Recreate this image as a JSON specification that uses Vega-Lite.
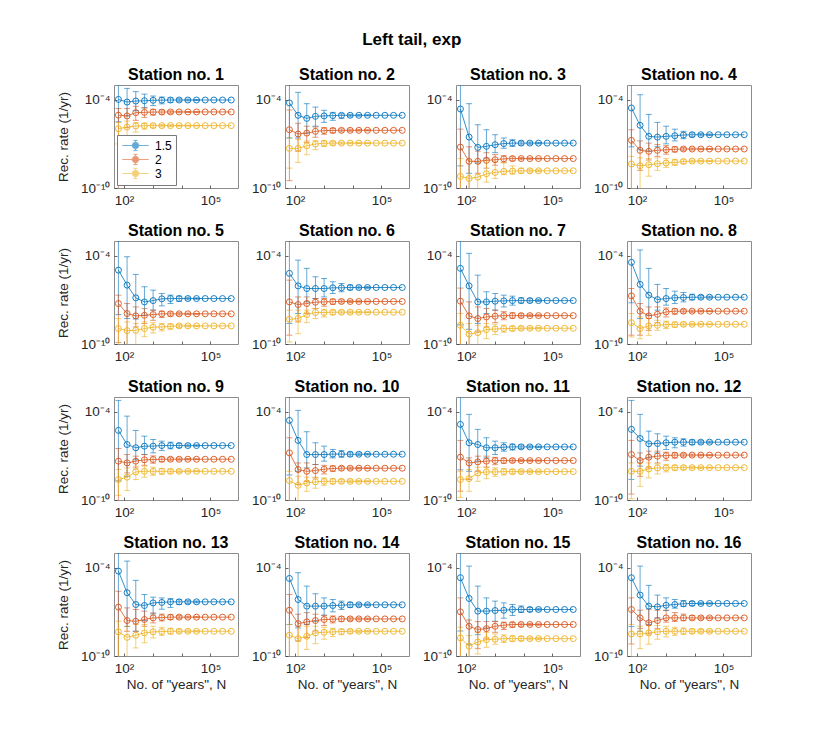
{
"$schema": "https://vega.github.io/schema/vega-lite/v6.json",
"background": "white",
"padding": {"left": 55, "top": 30, "right": 5, "bottom": 5},
"title": {"text": "Left tail, exp", "fontSize": 17, "anchor": "middle", "offset": 18, "dx": 8},
"data": {"values": [
{"s":1,"g":"1.5","n":64,"v":-3.98,"lo":-5.5,"hi":-2.5},{"s":1,"g":"1.5","n":128,"v":-4.16,"lo":-5.11,"hi":-3.23},{"s":1,"g":"1.5","n":256,"v":-4.09,"lo":-4.75,"hi":-3.45},{"s":1,"g":"1.5","n":512,"v":-4.07,"lo":-4.55,"hi":-3.62},{"s":1,"g":"1.5","n":1024,"v":-4.04,"lo":-4.4,"hi":-3.75},{"s":1,"g":"1.5","n":2048,"v":-4.03,"lo":-4.28,"hi":-3.82},{"s":1,"g":"1.5","n":4096,"v":-4.02,"lo":-4.18,"hi":-3.88},{"s":1,"g":"1.5","n":8192,"v":-4.02,"lo":-4.11,"hi":-3.93},{"s":1,"g":"1.5","n":16384,"v":-4.02,"lo":-4.08,"hi":-3.96},{"s":1,"g":"1.5","n":32768,"v":-4.02,"lo":-4.06,"hi":-3.98},{"s":1,"g":"1.5","n":65536,"v":-4.02},{"s":1,"g":"1.5","n":131072,"v":-4.02},{"s":1,"g":"1.5","n":262144,"v":-4.02},{"s":1,"g":"1.5","n":524288,"v":-4.02},
{"s":1,"g":"2","n":64,"v":-5.05,"lo":-10.5,"hi":-4.6},{"s":1,"g":"2","n":128,"v":-5.1,"lo":-5.9,"hi":-4.6},{"s":1,"g":"2","n":256,"v":-4.88,"lo":-5.4,"hi":-4.45},{"s":1,"g":"2","n":512,"v":-4.86,"lo":-5.2,"hi":-4.55},{"s":1,"g":"2","n":1024,"v":-4.84,"lo":-5.05,"hi":-4.65},{"s":1,"g":"2","n":2048,"v":-4.84,"lo":-4.98,"hi":-4.7},{"s":1,"g":"2","n":4096,"v":-4.83,"lo":-4.93,"hi":-4.75},{"s":1,"g":"2","n":8192,"v":-4.83,"lo":-4.89,"hi":-4.78},{"s":1,"g":"2","n":16384,"v":-4.83,"lo":-4.87,"hi":-4.8},{"s":1,"g":"2","n":32768,"v":-4.83,"lo":-4.86,"hi":-4.81},{"s":1,"g":"2","n":65536,"v":-4.83},{"s":1,"g":"2","n":131072,"v":-4.83},{"s":1,"g":"2","n":262144,"v":-4.83},{"s":1,"g":"2","n":524288,"v":-4.83},
{"s":1,"g":"3","n":64,"v":-5.97,"lo":-7.0,"hi":-5.55},{"s":1,"g":"3","n":128,"v":-5.86,"lo":-6.7,"hi":-5.45},{"s":1,"g":"3","n":256,"v":-5.79,"lo":-6.2,"hi":-5.55},{"s":1,"g":"3","n":512,"v":-5.77,"lo":-6.0,"hi":-5.6},{"s":1,"g":"3","n":1024,"v":-5.76,"lo":-5.9,"hi":-5.65},{"s":1,"g":"3","n":2048,"v":-5.76,"lo":-5.85,"hi":-5.68},{"s":1,"g":"3","n":4096,"v":-5.76,"lo":-5.82,"hi":-5.7},{"s":1,"g":"3","n":8192,"v":-5.76,"lo":-5.8,"hi":-5.72},{"s":1,"g":"3","n":16384,"v":-5.76,"lo":-5.79,"hi":-5.73},{"s":1,"g":"3","n":32768,"v":-5.76,"lo":-5.78,"hi":-5.74},{"s":1,"g":"3","n":65536,"v":-5.76},{"s":1,"g":"3","n":131072,"v":-5.76},{"s":1,"g":"3","n":262144,"v":-5.76},{"s":1,"g":"3","n":524288,"v":-5.76},
{"s":2,"g":"1.5","n":64,"v":-4.22,"lo":-6.6,"hi":-2.5},{"s":2,"g":"1.5","n":128,"v":-5.06,"lo":-6.6,"hi":-3.5},{"s":2,"g":"1.5","n":256,"v":-5.27,"lo":-6.27,"hi":-4.27},{"s":2,"g":"1.5","n":512,"v":-5.13,"lo":-5.8,"hi":-4.5},{"s":2,"g":"1.5","n":1024,"v":-5.1,"lo":-5.54,"hi":-4.72},{"s":2,"g":"1.5","n":2048,"v":-5.08,"lo":-5.4,"hi":-4.86},{"s":2,"g":"1.5","n":4096,"v":-5.06,"lo":-5.27,"hi":-4.95},{"s":2,"g":"1.5","n":8192,"v":-5.06,"lo":-5.16,"hi":-4.99},{"s":2,"g":"1.5","n":16384,"v":-5.06,"lo":-5.12,"hi":-5.01},{"s":2,"g":"1.5","n":32768,"v":-5.06,"lo":-5.1,"hi":-5.02},{"s":2,"g":"1.5","n":65536,"v":-5.06},{"s":2,"g":"1.5","n":131072,"v":-5.06},{"s":2,"g":"1.5","n":262144,"v":-5.06},{"s":2,"g":"1.5","n":524288,"v":-5.06},
{"s":2,"g":"2","n":64,"v":-6.04,"lo":-9.5,"hi":-4.7},{"s":2,"g":"2","n":128,"v":-6.33,"lo":-7.5,"hi":-5.6},{"s":2,"g":"2","n":256,"v":-6.27,"lo":-6.9,"hi":-5.8},{"s":2,"g":"2","n":512,"v":-6.15,"lo":-6.55,"hi":-5.85},{"s":2,"g":"2","n":1024,"v":-6.1,"lo":-6.35,"hi":-5.9},{"s":2,"g":"2","n":2048,"v":-6.09,"lo":-6.25,"hi":-5.95},{"s":2,"g":"2","n":4096,"v":-6.08,"lo":-6.19,"hi":-5.98},{"s":2,"g":"2","n":8192,"v":-6.08,"lo":-6.15,"hi":-6.0},{"s":2,"g":"2","n":16384,"v":-6.08,"lo":-6.13,"hi":-6.02},{"s":2,"g":"2","n":32768,"v":-6.08,"lo":-6.12,"hi":-6.04},{"s":2,"g":"2","n":65536,"v":-6.08},{"s":2,"g":"2","n":131072,"v":-6.08},{"s":2,"g":"2","n":262144,"v":-6.08},{"s":2,"g":"2","n":524288,"v":-6.08},
{"s":2,"g":"3","n":64,"v":-7.31,"lo":-8.65,"hi":-6.6},{"s":2,"g":"3","n":128,"v":-7.31,"lo":-8.26,"hi":-6.7},{"s":2,"g":"3","n":256,"v":-7.13,"lo":-7.74,"hi":-6.8},{"s":2,"g":"3","n":512,"v":-7.01,"lo":-7.4,"hi":-6.78},{"s":2,"g":"3","n":1024,"v":-6.96,"lo":-7.18,"hi":-6.8},{"s":2,"g":"3","n":2048,"v":-6.95,"lo":-7.08,"hi":-6.85},{"s":2,"g":"3","n":4096,"v":-6.95,"lo":-7.03,"hi":-6.88},{"s":2,"g":"3","n":8192,"v":-6.95,"lo":-7.0,"hi":-6.9},{"s":2,"g":"3","n":16384,"v":-6.95,"lo":-6.98,"hi":-6.92},{"s":2,"g":"3","n":32768,"v":-6.95,"lo":-6.97,"hi":-6.93},{"s":2,"g":"3","n":65536,"v":-6.95},{"s":2,"g":"3","n":131072,"v":-6.95},{"s":2,"g":"3","n":262144,"v":-6.95},{"s":2,"g":"3","n":524288,"v":-6.95},
{"s":3,"g":"1.5","n":64,"v":-4.63,"lo":-8.5,"hi":-2.5},{"s":3,"g":"1.5","n":128,"v":-6.54,"lo":-9.0,"hi":-4.27},{"s":3,"g":"1.5","n":256,"v":-7.24,"lo":-8.3,"hi":-5.7},{"s":3,"g":"1.5","n":512,"v":-7.17,"lo":-7.97,"hi":-6.04},{"s":3,"g":"1.5","n":1024,"v":-7.06,"lo":-7.6,"hi":-6.38},{"s":3,"g":"1.5","n":2048,"v":-6.98,"lo":-7.3,"hi":-6.6},{"s":3,"g":"1.5","n":4096,"v":-6.95,"lo":-7.17,"hi":-6.72},{"s":3,"g":"1.5","n":8192,"v":-6.95,"lo":-7.08,"hi":-6.82},{"s":3,"g":"1.5","n":16384,"v":-6.95,"lo":-7.03,"hi":-6.87},{"s":3,"g":"1.5","n":32768,"v":-6.95,"lo":-7.0,"hi":-6.9},{"s":3,"g":"1.5","n":65536,"v":-6.95},{"s":3,"g":"1.5","n":131072,"v":-6.95},{"s":3,"g":"1.5","n":262144,"v":-6.95},{"s":3,"g":"1.5","n":524288,"v":-6.95},
{"s":3,"g":"2","n":64,"v":-7.22,"lo":-10.5,"hi":-6.0},{"s":3,"g":"2","n":128,"v":-8.19,"lo":-10.5,"hi":-7.2},{"s":3,"g":"2","n":256,"v":-8.19,"lo":-9.0,"hi":-7.5},{"s":3,"g":"2","n":512,"v":-8.12,"lo":-8.65,"hi":-7.6},{"s":3,"g":"2","n":1024,"v":-8.08,"lo":-8.45,"hi":-7.73},{"s":3,"g":"2","n":2048,"v":-8.02,"lo":-8.25,"hi":-7.8},{"s":3,"g":"2","n":4096,"v":-8.0,"lo":-8.15,"hi":-7.87},{"s":3,"g":"2","n":8192,"v":-8.0,"lo":-8.08,"hi":-7.92},{"s":3,"g":"2","n":16384,"v":-8.0,"lo":-8.05,"hi":-7.95},{"s":3,"g":"2","n":32768,"v":-8.0,"lo":-8.03,"hi":-7.97},{"s":3,"g":"2","n":65536,"v":-8.0},{"s":3,"g":"2","n":131072,"v":-8.0},{"s":3,"g":"2","n":262144,"v":-8.0},{"s":3,"g":"2","n":524288,"v":-8.0},
{"s":3,"g":"3","n":64,"v":-9.21,"lo":-10.5,"hi":-8.0},{"s":3,"g":"3","n":128,"v":-9.35,"lo":-10.5,"hi":-8.1},{"s":3,"g":"3","n":256,"v":-9.26,"lo":-10.2,"hi":-8.2},{"s":3,"g":"3","n":512,"v":-9.03,"lo":-9.6,"hi":-8.1},{"s":3,"g":"3","n":1024,"v":-8.94,"lo":-9.35,"hi":-8.2},{"s":3,"g":"3","n":2048,"v":-8.87,"lo":-9.1,"hi":-8.3},{"s":3,"g":"3","n":4096,"v":-8.85,"lo":-9.05,"hi":-8.5},{"s":3,"g":"3","n":8192,"v":-8.83,"lo":-8.98,"hi":-8.65},{"s":3,"g":"3","n":16384,"v":-8.83,"lo":-8.92,"hi":-8.72},{"s":3,"g":"3","n":32768,"v":-8.83,"lo":-8.89,"hi":-8.76},{"s":3,"g":"3","n":65536,"v":-8.83},{"s":3,"g":"3","n":131072,"v":-8.83},{"s":3,"g":"3","n":262144,"v":-8.83},{"s":3,"g":"3","n":524288,"v":-8.83},
{"s":4,"g":"1.5","n":64,"v":-4.56,"lo":-7.2,"hi":-2.5},{"s":4,"g":"1.5","n":128,"v":-5.74,"lo":-7.4,"hi":-3.66},{"s":4,"g":"1.5","n":256,"v":-6.49,"lo":-7.5,"hi":-5.0},{"s":4,"g":"1.5","n":512,"v":-6.54,"lo":-7.2,"hi":-5.54},{"s":4,"g":"1.5","n":1024,"v":-6.49,"lo":-7.0,"hi":-5.8},{"s":4,"g":"1.5","n":2048,"v":-6.45,"lo":-6.8,"hi":-6.0},{"s":4,"g":"1.5","n":4096,"v":-6.4,"lo":-6.65,"hi":-6.15},{"s":4,"g":"1.5","n":8192,"v":-6.38,"lo":-6.52,"hi":-6.25},{"s":4,"g":"1.5","n":16384,"v":-6.38,"lo":-6.46,"hi":-6.3},{"s":4,"g":"1.5","n":32768,"v":-6.38,"lo":-6.43,"hi":-6.33},{"s":4,"g":"1.5","n":65536,"v":-6.38},{"s":4,"g":"1.5","n":131072,"v":-6.38},{"s":4,"g":"1.5","n":262144,"v":-6.38},{"s":4,"g":"1.5","n":524288,"v":-6.38},
{"s":4,"g":"2","n":64,"v":-6.76,"lo":-10.5,"hi":-6.04},{"s":4,"g":"2","n":128,"v":-7.44,"lo":-8.8,"hi":-6.8},{"s":4,"g":"2","n":256,"v":-7.51,"lo":-8.1,"hi":-6.95},{"s":4,"g":"2","n":512,"v":-7.44,"lo":-7.85,"hi":-7.05},{"s":4,"g":"2","n":1024,"v":-7.4,"lo":-7.7,"hi":-7.12},{"s":4,"g":"2","n":2048,"v":-7.37,"lo":-7.55,"hi":-7.2},{"s":4,"g":"2","n":4096,"v":-7.35,"lo":-7.47,"hi":-7.25},{"s":4,"g":"2","n":8192,"v":-7.35,"lo":-7.42,"hi":-7.28},{"s":4,"g":"2","n":16384,"v":-7.35,"lo":-7.4,"hi":-7.3},{"s":4,"g":"2","n":32768,"v":-7.35,"lo":-7.38,"hi":-7.32},{"s":4,"g":"2","n":65536,"v":-7.35},{"s":4,"g":"2","n":131072,"v":-7.35},{"s":4,"g":"2","n":262144,"v":-7.35},{"s":4,"g":"2","n":524288,"v":-7.35},
{"s":4,"g":"3","n":64,"v":-8.37,"lo":-10.5,"hi":-7.85},{"s":4,"g":"3","n":128,"v":-8.49,"lo":-10.5,"hi":-7.95},{"s":4,"g":"3","n":256,"v":-8.42,"lo":-9.2,"hi":-8.0},{"s":4,"g":"3","n":512,"v":-8.35,"lo":-8.8,"hi":-7.95},{"s":4,"g":"3","n":1024,"v":-8.3,"lo":-8.6,"hi":-8.0},{"s":4,"g":"3","n":2048,"v":-8.26,"lo":-8.45,"hi":-8.05},{"s":4,"g":"3","n":4096,"v":-8.2,"lo":-8.33,"hi":-8.08},{"s":4,"g":"3","n":8192,"v":-8.17,"lo":-8.25,"hi":-8.1},{"s":4,"g":"3","n":16384,"v":-8.17,"lo":-8.22,"hi":-8.12},{"s":4,"g":"3","n":32768,"v":-8.17,"lo":-8.2,"hi":-8.14},{"s":4,"g":"3","n":65536,"v":-8.17},{"s":4,"g":"3","n":131072,"v":-8.17},{"s":4,"g":"3","n":262144,"v":-8.17},{"s":4,"g":"3","n":524288,"v":-8.17},
{"s":5,"g":"1.5","n":64,"v":-4.98,"lo":-8.0,"hi":-2.5},{"s":5,"g":"1.5","n":128,"v":-6.0,"lo":-8.27,"hi":-4.07},{"s":5,"g":"1.5","n":256,"v":-6.86,"lo":-8.3,"hi":-5.27},{"s":5,"g":"1.5","n":512,"v":-7.14,"lo":-8.05,"hi":-6.11},{"s":5,"g":"1.5","n":1024,"v":-7.05,"lo":-7.7,"hi":-6.34},{"s":5,"g":"1.5","n":2048,"v":-6.93,"lo":-7.41,"hi":-6.57},{"s":5,"g":"1.5","n":4096,"v":-6.91,"lo":-7.25,"hi":-6.68},{"s":5,"g":"1.5","n":8192,"v":-6.91,"lo":-7.1,"hi":-6.75},{"s":5,"g":"1.5","n":16384,"v":-6.91,"lo":-7.0,"hi":-6.82},{"s":5,"g":"1.5","n":32768,"v":-6.91,"lo":-6.96,"hi":-6.86},{"s":5,"g":"1.5","n":65536,"v":-6.91},{"s":5,"g":"1.5","n":131072,"v":-6.91},{"s":5,"g":"1.5","n":262144,"v":-6.91},{"s":5,"g":"1.5","n":524288,"v":-6.91},
{"s":5,"g":"2","n":64,"v":-7.25,"lo":-9.9,"hi":-6.68},{"s":5,"g":"2","n":128,"v":-7.93,"lo":-10.5,"hi":-7.25},{"s":5,"g":"2","n":256,"v":-8.09,"lo":-8.84,"hi":-7.48},{"s":5,"g":"2","n":512,"v":-8.05,"lo":-8.61,"hi":-7.59},{"s":5,"g":"2","n":1024,"v":-8.0,"lo":-8.39,"hi":-7.7},{"s":5,"g":"2","n":2048,"v":-7.95,"lo":-8.2,"hi":-7.77},{"s":5,"g":"2","n":4096,"v":-7.95,"lo":-8.1,"hi":-7.82},{"s":5,"g":"2","n":8192,"v":-7.95,"lo":-8.04,"hi":-7.87},{"s":5,"g":"2","n":16384,"v":-7.95,"lo":-8.0,"hi":-7.9},{"s":5,"g":"2","n":32768,"v":-7.95,"lo":-7.98,"hi":-7.92},{"s":5,"g":"2","n":65536,"v":-7.95},{"s":5,"g":"2","n":131072,"v":-7.95},{"s":5,"g":"2","n":262144,"v":-7.95},{"s":5,"g":"2","n":524288,"v":-7.95},
{"s":5,"g":"3","n":64,"v":-8.95,"lo":-10.5,"hi":-8.27},{"s":5,"g":"3","n":128,"v":-9.09,"lo":-10.5,"hi":-8.5},{"s":5,"g":"3","n":256,"v":-9.07,"lo":-10.5,"hi":-8.61},{"s":5,"g":"3","n":512,"v":-8.95,"lo":-9.5,"hi":-8.5},{"s":5,"g":"3","n":1024,"v":-8.86,"lo":-9.25,"hi":-8.55},{"s":5,"g":"3","n":2048,"v":-8.84,"lo":-9.11,"hi":-8.61},{"s":5,"g":"3","n":4096,"v":-8.8,"lo":-8.98,"hi":-8.65},{"s":5,"g":"3","n":8192,"v":-8.77,"lo":-8.88,"hi":-8.68},{"s":5,"g":"3","n":16384,"v":-8.77,"lo":-8.83,"hi":-8.71},{"s":5,"g":"3","n":32768,"v":-8.77,"lo":-8.81,"hi":-8.73},{"s":5,"g":"3","n":65536,"v":-8.77},{"s":5,"g":"3","n":131072,"v":-8.77},{"s":5,"g":"3","n":262144,"v":-8.77},{"s":5,"g":"3","n":524288,"v":-8.77},
{"s":6,"g":"1.5","n":64,"v":-5.2,"lo":-8.6,"hi":-2.5},{"s":6,"g":"1.5","n":128,"v":-6.05,"lo":-7.93,"hi":-4.3},{"s":6,"g":"1.5","n":256,"v":-6.23,"lo":-7.14,"hi":-4.86},{"s":6,"g":"1.5","n":512,"v":-6.23,"lo":-6.91,"hi":-5.43},{"s":6,"g":"1.5","n":1024,"v":-6.23,"lo":-6.8,"hi":-5.55},{"s":6,"g":"1.5","n":2048,"v":-6.18,"lo":-6.57,"hi":-5.77},{"s":6,"g":"1.5","n":4096,"v":-6.18,"lo":-6.45,"hi":-5.89},{"s":6,"g":"1.5","n":8192,"v":-6.16,"lo":-6.32,"hi":-6.0},{"s":6,"g":"1.5","n":16384,"v":-6.16,"lo":-6.26,"hi":-6.06},{"s":6,"g":"1.5","n":32768,"v":-6.16,"lo":-6.22,"hi":-6.1},{"s":6,"g":"1.5","n":65536,"v":-6.16},{"s":6,"g":"1.5","n":131072,"v":-6.16},{"s":6,"g":"1.5","n":262144,"v":-6.16},{"s":6,"g":"1.5","n":524288,"v":-6.16},
{"s":6,"g":"2","n":64,"v":-7.14,"lo":-9.4,"hi":-5.66},{"s":6,"g":"2","n":128,"v":-7.32,"lo":-8.5,"hi":-6.8},{"s":6,"g":"2","n":256,"v":-7.25,"lo":-7.93,"hi":-6.8},{"s":6,"g":"2","n":512,"v":-7.16,"lo":-7.59,"hi":-6.91},{"s":6,"g":"2","n":1024,"v":-7.14,"lo":-7.43,"hi":-6.91},{"s":6,"g":"2","n":2048,"v":-7.12,"lo":-7.3,"hi":-6.95},{"s":6,"g":"2","n":4096,"v":-7.11,"lo":-7.22,"hi":-7.0},{"s":6,"g":"2","n":8192,"v":-7.11,"lo":-7.18,"hi":-7.03},{"s":6,"g":"2","n":16384,"v":-7.11,"lo":-7.16,"hi":-7.06},{"s":6,"g":"2","n":32768,"v":-7.11,"lo":-7.14,"hi":-7.08},{"s":6,"g":"2","n":65536,"v":-7.11},{"s":6,"g":"2","n":131072,"v":-7.11},{"s":6,"g":"2","n":262144,"v":-7.11},{"s":6,"g":"2","n":524288,"v":-7.11},
{"s":6,"g":"3","n":64,"v":-8.32,"lo":-9.86,"hi":-7.7},{"s":6,"g":"3","n":128,"v":-8.27,"lo":-9.3,"hi":-7.7},{"s":6,"g":"3","n":256,"v":-8.0,"lo":-8.55,"hi":-7.7},{"s":6,"g":"3","n":512,"v":-7.86,"lo":-8.27,"hi":-7.59},{"s":6,"g":"3","n":1024,"v":-7.86,"lo":-8.16,"hi":-7.64},{"s":6,"g":"3","n":2048,"v":-7.84,"lo":-8.02,"hi":-7.7},{"s":6,"g":"3","n":4096,"v":-7.84,"lo":-7.95,"hi":-7.74},{"s":6,"g":"3","n":8192,"v":-7.84,"lo":-7.91,"hi":-7.77},{"s":6,"g":"3","n":16384,"v":-7.84,"lo":-7.89,"hi":-7.79},{"s":6,"g":"3","n":32768,"v":-7.84,"lo":-7.87,"hi":-7.81},{"s":6,"g":"3","n":65536,"v":-7.84},{"s":6,"g":"3","n":131072,"v":-7.84},{"s":6,"g":"3","n":262144,"v":-7.84},{"s":6,"g":"3","n":524288,"v":-7.84},
{"s":7,"g":"1.5","n":64,"v":-4.86,"lo":-8.7,"hi":-2.5},{"s":7,"g":"1.5","n":128,"v":-6.05,"lo":-9.0,"hi":-3.84},{"s":7,"g":"1.5","n":256,"v":-7.14,"lo":-8.6,"hi":-5.32},{"s":7,"g":"1.5","n":512,"v":-7.14,"lo":-7.93,"hi":-6.45},{"s":7,"g":"1.5","n":1024,"v":-7.09,"lo":-7.7,"hi":-6.57},{"s":7,"g":"1.5","n":2048,"v":-7.07,"lo":-7.48,"hi":-6.68},{"s":7,"g":"1.5","n":4096,"v":-7.05,"lo":-7.36,"hi":-6.75},{"s":7,"g":"1.5","n":8192,"v":-7.05,"lo":-7.22,"hi":-6.85},{"s":7,"g":"1.5","n":16384,"v":-7.05,"lo":-7.15,"hi":-6.92},{"s":7,"g":"1.5","n":32768,"v":-7.05,"lo":-7.11,"hi":-6.96},{"s":7,"g":"1.5","n":65536,"v":-7.05},{"s":7,"g":"1.5","n":131072,"v":-7.05},{"s":7,"g":"1.5","n":262144,"v":-7.05},{"s":7,"g":"1.5","n":524288,"v":-7.05},
{"s":7,"g":"2","n":64,"v":-7.09,"lo":-10.5,"hi":-6.2},{"s":7,"g":"2","n":128,"v":-8.09,"lo":-10.5,"hi":-7.14},{"s":7,"g":"2","n":256,"v":-8.27,"lo":-9.18,"hi":-7.48},{"s":7,"g":"2","n":512,"v":-8.16,"lo":-8.84,"hi":-7.59},{"s":7,"g":"2","n":1024,"v":-8.11,"lo":-8.55,"hi":-7.7},{"s":7,"g":"2","n":2048,"v":-8.07,"lo":-8.35,"hi":-7.8},{"s":7,"g":"2","n":4096,"v":-8.07,"lo":-8.25,"hi":-7.88},{"s":7,"g":"2","n":8192,"v":-8.07,"lo":-8.17,"hi":-7.94},{"s":7,"g":"2","n":16384,"v":-8.07,"lo":-8.13,"hi":-7.98},{"s":7,"g":"2","n":32768,"v":-8.07,"lo":-8.11,"hi":-8.01},{"s":7,"g":"2","n":65536,"v":-8.07},{"s":7,"g":"2","n":131072,"v":-8.07},{"s":7,"g":"2","n":262144,"v":-8.07},{"s":7,"g":"2","n":524288,"v":-8.07},
{"s":7,"g":"3","n":64,"v":-8.73,"lo":-10.5,"hi":-7.93},{"s":7,"g":"3","n":128,"v":-9.32,"lo":-10.5,"hi":-8.61},{"s":7,"g":"3","n":256,"v":-9.23,"lo":-10.5,"hi":-8.73},{"s":7,"g":"3","n":512,"v":-9.02,"lo":-9.64,"hi":-8.61},{"s":7,"g":"3","n":1024,"v":-8.98,"lo":-9.36,"hi":-8.66},{"s":7,"g":"3","n":2048,"v":-8.95,"lo":-9.2,"hi":-8.72},{"s":7,"g":"3","n":4096,"v":-8.95,"lo":-9.1,"hi":-8.78},{"s":7,"g":"3","n":8192,"v":-8.93,"lo":-9.03,"hi":-8.83},{"s":7,"g":"3","n":16384,"v":-8.93,"lo":-8.99,"hi":-8.86},{"s":7,"g":"3","n":32768,"v":-8.93,"lo":-8.97,"hi":-8.88},{"s":7,"g":"3","n":65536,"v":-8.93},{"s":7,"g":"3","n":131072,"v":-8.93},{"s":7,"g":"3","n":262144,"v":-8.93},{"s":7,"g":"3","n":524288,"v":-8.93},
{"s":8,"g":"1.5","n":64,"v":-4.45,"lo":-7.2,"hi":-2.5},{"s":8,"g":"1.5","n":128,"v":-5.95,"lo":-8.27,"hi":-3.61},{"s":8,"g":"1.5","n":256,"v":-6.68,"lo":-8.05,"hi":-4.86},{"s":8,"g":"1.5","n":512,"v":-6.98,"lo":-7.7,"hi":-5.95},{"s":8,"g":"1.5","n":1024,"v":-6.91,"lo":-7.36,"hi":-6.23},{"s":8,"g":"1.5","n":2048,"v":-6.86,"lo":-7.25,"hi":-6.41},{"s":8,"g":"1.5","n":4096,"v":-6.84,"lo":-7.14,"hi":-6.5},{"s":8,"g":"1.5","n":8192,"v":-6.82,"lo":-7.0,"hi":-6.62},{"s":8,"g":"1.5","n":16384,"v":-6.82,"lo":-6.93,"hi":-6.7},{"s":8,"g":"1.5","n":32768,"v":-6.82,"lo":-6.89,"hi":-6.75},{"s":8,"g":"1.5","n":65536,"v":-6.82},{"s":8,"g":"1.5","n":131072,"v":-6.82},{"s":8,"g":"1.5","n":262144,"v":-6.82},{"s":8,"g":"1.5","n":524288,"v":-6.82},
{"s":8,"g":"2","n":64,"v":-6.73,"lo":-9.4,"hi":-6.23},{"s":8,"g":"2","n":128,"v":-7.77,"lo":-9.4,"hi":-7.25},{"s":8,"g":"2","n":256,"v":-8.09,"lo":-9.07,"hi":-7.48},{"s":8,"g":"2","n":512,"v":-7.98,"lo":-8.55,"hi":-7.48},{"s":8,"g":"2","n":1024,"v":-7.82,"lo":-8.16,"hi":-7.55},{"s":8,"g":"2","n":2048,"v":-7.77,"lo":-7.98,"hi":-7.6},{"s":8,"g":"2","n":4096,"v":-7.77,"lo":-7.9,"hi":-7.66},{"s":8,"g":"2","n":8192,"v":-7.77,"lo":-7.85,"hi":-7.7},{"s":8,"g":"2","n":16384,"v":-7.77,"lo":-7.82,"hi":-7.72},{"s":8,"g":"2","n":32768,"v":-7.77,"lo":-7.8,"hi":-7.74},{"s":8,"g":"2","n":65536,"v":-7.77},{"s":8,"g":"2","n":131072,"v":-7.77},{"s":8,"g":"2","n":262144,"v":-7.77},{"s":8,"g":"2","n":524288,"v":-7.77},
{"s":8,"g":"3","n":64,"v":-8.55,"lo":-9.52,"hi":-7.93},{"s":8,"g":"3","n":128,"v":-8.95,"lo":-9.64,"hi":-8.16},{"s":8,"g":"3","n":256,"v":-8.77,"lo":-9.41,"hi":-8.27},{"s":8,"g":"3","n":512,"v":-8.73,"lo":-9.07,"hi":-8.39},{"s":8,"g":"3","n":1024,"v":-8.68,"lo":-8.95,"hi":-8.45},{"s":8,"g":"3","n":2048,"v":-8.68,"lo":-8.86,"hi":-8.52},{"s":8,"g":"3","n":4096,"v":-8.66,"lo":-8.78,"hi":-8.56},{"s":8,"g":"3","n":8192,"v":-8.66,"lo":-8.73,"hi":-8.6},{"s":8,"g":"3","n":16384,"v":-8.66,"lo":-8.7,"hi":-8.62},{"s":8,"g":"3","n":32768,"v":-8.66,"lo":-8.69,"hi":-8.63},{"s":8,"g":"3","n":65536,"v":-8.66},{"s":8,"g":"3","n":131072,"v":-8.66},{"s":8,"g":"3","n":262144,"v":-8.66},{"s":8,"g":"3","n":524288,"v":-8.66},
{"s":9,"g":"1.5","n":64,"v":-5.27,"lo":-8.7,"hi":-3.23},{"s":9,"g":"1.5","n":128,"v":-6.23,"lo":-8.4,"hi":-4.3},{"s":9,"g":"1.5","n":256,"v":-6.45,"lo":-7.27,"hi":-5.27},{"s":9,"g":"1.5","n":512,"v":-6.34,"lo":-6.91,"hi":-5.66},{"s":9,"g":"1.5","n":1024,"v":-6.34,"lo":-6.8,"hi":-5.89},{"s":9,"g":"1.5","n":2048,"v":-6.3,"lo":-6.64,"hi":-6.0},{"s":9,"g":"1.5","n":4096,"v":-6.3,"lo":-6.52,"hi":-6.07},{"s":9,"g":"1.5","n":8192,"v":-6.3,"lo":-6.43,"hi":-6.15},{"s":9,"g":"1.5","n":16384,"v":-6.3,"lo":-6.38,"hi":-6.2},{"s":9,"g":"1.5","n":32768,"v":-6.3,"lo":-6.35,"hi":-6.24},{"s":9,"g":"1.5","n":65536,"v":-6.3},{"s":9,"g":"1.5","n":131072,"v":-6.3},{"s":9,"g":"1.5","n":262144,"v":-6.3},{"s":9,"g":"1.5","n":524288,"v":-6.3},
{"s":9,"g":"2","n":64,"v":-7.36,"lo":-10.5,"hi":-6.5},{"s":9,"g":"2","n":128,"v":-7.48,"lo":-8.16,"hi":-6.91},{"s":9,"g":"2","n":256,"v":-7.36,"lo":-7.82,"hi":-7.02},{"s":9,"g":"2","n":512,"v":-7.27,"lo":-7.64,"hi":-6.91},{"s":9,"g":"2","n":1024,"v":-7.25,"lo":-7.5,"hi":-7.0},{"s":9,"g":"2","n":2048,"v":-7.23,"lo":-7.4,"hi":-7.07},{"s":9,"g":"2","n":4096,"v":-7.23,"lo":-7.33,"hi":-7.12},{"s":9,"g":"2","n":8192,"v":-7.23,"lo":-7.3,"hi":-7.15},{"s":9,"g":"2","n":16384,"v":-7.23,"lo":-7.28,"hi":-7.18},{"s":9,"g":"2","n":32768,"v":-7.23,"lo":-7.26,"hi":-7.2},{"s":9,"g":"2","n":65536,"v":-7.23},{"s":9,"g":"2","n":131072,"v":-7.23},{"s":9,"g":"2","n":262144,"v":-7.23},{"s":9,"g":"2","n":524288,"v":-7.23},
{"s":9,"g":"3","n":64,"v":-8.61,"lo":-9.68,"hi":-7.93},{"s":9,"g":"3","n":128,"v":-8.45,"lo":-9.36,"hi":-7.82},{"s":9,"g":"3","n":256,"v":-8.09,"lo":-8.61,"hi":-7.7},{"s":9,"g":"3","n":512,"v":-8.05,"lo":-8.45,"hi":-7.7},{"s":9,"g":"3","n":1024,"v":-8.05,"lo":-8.32,"hi":-7.77},{"s":9,"g":"3","n":2048,"v":-8.05,"lo":-8.25,"hi":-7.85},{"s":9,"g":"3","n":4096,"v":-8.05,"lo":-8.18,"hi":-7.9},{"s":9,"g":"3","n":8192,"v":-8.05,"lo":-8.13,"hi":-7.95},{"s":9,"g":"3","n":16384,"v":-8.05,"lo":-8.1,"hi":-7.98},{"s":9,"g":"3","n":32768,"v":-8.05,"lo":-8.08,"hi":-8.0},{"s":9,"g":"3","n":65536,"v":-8.05},{"s":9,"g":"3","n":131072,"v":-8.05},{"s":9,"g":"3","n":262144,"v":-8.05},{"s":9,"g":"3","n":524288,"v":-8.05},
{"s":10,"g":"1.5","n":64,"v":-4.59,"lo":-8.3,"hi":-2.5},{"s":10,"g":"1.5","n":128,"v":-5.95,"lo":-8.05,"hi":-3.91},{"s":10,"g":"1.5","n":256,"v":-6.91,"lo":-7.82,"hi":-5.36},{"s":10,"g":"1.5","n":512,"v":-6.91,"lo":-7.59,"hi":-6.11},{"s":10,"g":"1.5","n":1024,"v":-6.91,"lo":-7.36,"hi":-6.34},{"s":10,"g":"1.5","n":2048,"v":-6.88,"lo":-7.14,"hi":-6.57},{"s":10,"g":"1.5","n":4096,"v":-6.88,"lo":-7.09,"hi":-6.64},{"s":10,"g":"1.5","n":8192,"v":-6.89,"lo":-7.02,"hi":-6.75},{"s":10,"g":"1.5","n":16384,"v":-6.89,"lo":-6.97,"hi":-6.8},{"s":10,"g":"1.5","n":32768,"v":-6.89,"lo":-6.94,"hi":-6.84},{"s":10,"g":"1.5","n":65536,"v":-6.89},{"s":10,"g":"1.5","n":131072,"v":-6.89},{"s":10,"g":"1.5","n":262144,"v":-6.89},{"s":10,"g":"1.5","n":524288,"v":-6.89},
{"s":10,"g":"2","n":64,"v":-6.8,"lo":-10.5,"hi":-5.77},{"s":10,"g":"2","n":128,"v":-7.93,"lo":-8.95,"hi":-7.48},{"s":10,"g":"2","n":256,"v":-8.05,"lo":-8.73,"hi":-7.48},{"s":10,"g":"2","n":512,"v":-8.0,"lo":-8.5,"hi":-7.59},{"s":10,"g":"2","n":1024,"v":-7.91,"lo":-8.23,"hi":-7.64},{"s":10,"g":"2","n":2048,"v":-7.86,"lo":-8.05,"hi":-7.68},{"s":10,"g":"2","n":4096,"v":-7.84,"lo":-7.97,"hi":-7.72},{"s":10,"g":"2","n":8192,"v":-7.84,"lo":-7.92,"hi":-7.76},{"s":10,"g":"2","n":16384,"v":-7.84,"lo":-7.89,"hi":-7.79},{"s":10,"g":"2","n":32768,"v":-7.84,"lo":-7.87,"hi":-7.81},{"s":10,"g":"2","n":65536,"v":-7.84},{"s":10,"g":"2","n":131072,"v":-7.84},{"s":10,"g":"2","n":262144,"v":-7.84},{"s":10,"g":"2","n":524288,"v":-7.84},
{"s":10,"g":"3","n":64,"v":-8.68,"lo":-10.5,"hi":-8.05},{"s":10,"g":"3","n":128,"v":-9.0,"lo":-10.5,"hi":-8.39},{"s":10,"g":"3","n":256,"v":-8.84,"lo":-9.41,"hi":-8.45},{"s":10,"g":"3","n":512,"v":-8.77,"lo":-9.2,"hi":-8.45},{"s":10,"g":"3","n":1024,"v":-8.73,"lo":-9.0,"hi":-8.5},{"s":10,"g":"3","n":2048,"v":-8.73,"lo":-8.9,"hi":-8.56},{"s":10,"g":"3","n":4096,"v":-8.73,"lo":-8.85,"hi":-8.6},{"s":10,"g":"3","n":8192,"v":-8.73,"lo":-8.81,"hi":-8.64},{"s":10,"g":"3","n":16384,"v":-8.73,"lo":-8.78,"hi":-8.67},{"s":10,"g":"3","n":32768,"v":-8.73,"lo":-8.77,"hi":-8.69},{"s":10,"g":"3","n":65536,"v":-8.73},{"s":10,"g":"3","n":131072,"v":-8.73},{"s":10,"g":"3","n":262144,"v":-8.73},{"s":10,"g":"3","n":524288,"v":-8.73},
{"s":11,"g":"1.5","n":64,"v":-4.86,"lo":-7.95,"hi":-2.5},{"s":11,"g":"1.5","n":128,"v":-6.11,"lo":-8.05,"hi":-4.18},{"s":11,"g":"1.5","n":256,"v":-6.23,"lo":-7.36,"hi":-5.2},{"s":11,"g":"1.5","n":512,"v":-6.45,"lo":-7.14,"hi":-5.77},{"s":11,"g":"1.5","n":1024,"v":-6.45,"lo":-6.91,"hi":-6.0},{"s":11,"g":"1.5","n":2048,"v":-6.41,"lo":-6.68,"hi":-6.11},{"s":11,"g":"1.5","n":4096,"v":-6.39,"lo":-6.6,"hi":-6.2},{"s":11,"g":"1.5","n":8192,"v":-6.39,"lo":-6.5,"hi":-6.27},{"s":11,"g":"1.5","n":16384,"v":-6.39,"lo":-6.46,"hi":-6.31},{"s":11,"g":"1.5","n":32768,"v":-6.39,"lo":-6.44,"hi":-6.34},{"s":11,"g":"1.5","n":65536,"v":-6.39},{"s":11,"g":"1.5","n":131072,"v":-6.39},{"s":11,"g":"1.5","n":262144,"v":-6.39},{"s":11,"g":"1.5","n":524288,"v":-6.39},
{"s":11,"g":"2","n":64,"v":-7.09,"lo":-9.4,"hi":-5.95},{"s":11,"g":"2","n":128,"v":-7.48,"lo":-8.61,"hi":-7.14},{"s":11,"g":"2","n":256,"v":-7.41,"lo":-8.05,"hi":-7.02},{"s":11,"g":"2","n":512,"v":-7.36,"lo":-7.77,"hi":-7.02},{"s":11,"g":"2","n":1024,"v":-7.32,"lo":-7.6,"hi":-7.1},{"s":11,"g":"2","n":2048,"v":-7.32,"lo":-7.5,"hi":-7.16},{"s":11,"g":"2","n":4096,"v":-7.32,"lo":-7.43,"hi":-7.2},{"s":11,"g":"2","n":8192,"v":-7.32,"lo":-7.39,"hi":-7.24},{"s":11,"g":"2","n":16384,"v":-7.32,"lo":-7.37,"hi":-7.26},{"s":11,"g":"2","n":32768,"v":-7.32,"lo":-7.36,"hi":-7.28},{"s":11,"g":"2","n":65536,"v":-7.32},{"s":11,"g":"2","n":131072,"v":-7.32},{"s":11,"g":"2","n":262144,"v":-7.32},{"s":11,"g":"2","n":524288,"v":-7.32},
{"s":11,"g":"3","n":64,"v":-8.61,"lo":-9.82,"hi":-8.05},{"s":11,"g":"3","n":128,"v":-8.55,"lo":-9.41,"hi":-7.93},{"s":11,"g":"3","n":256,"v":-8.16,"lo":-8.73,"hi":-7.77},{"s":11,"g":"3","n":512,"v":-8.09,"lo":-8.55,"hi":-7.77},{"s":11,"g":"3","n":1024,"v":-8.09,"lo":-8.39,"hi":-7.82},{"s":11,"g":"3","n":2048,"v":-8.07,"lo":-8.3,"hi":-7.88},{"s":11,"g":"3","n":4096,"v":-8.07,"lo":-8.22,"hi":-7.93},{"s":11,"g":"3","n":8192,"v":-8.07,"lo":-8.17,"hi":-7.97},{"s":11,"g":"3","n":16384,"v":-8.07,"lo":-8.14,"hi":-8.0},{"s":11,"g":"3","n":32768,"v":-8.07,"lo":-8.12,"hi":-8.02},{"s":11,"g":"3","n":65536,"v":-8.07},{"s":11,"g":"3","n":131072,"v":-8.07},{"s":11,"g":"3","n":262144,"v":-8.07},{"s":11,"g":"3","n":524288,"v":-8.07},
{"s":12,"g":"1.5","n":64,"v":-5.2,"lo":-8.6,"hi":-3.23},{"s":12,"g":"1.5","n":128,"v":-5.82,"lo":-7.7,"hi":-4.18},{"s":12,"g":"1.5","n":256,"v":-6.18,"lo":-7.14,"hi":-5.32},{"s":12,"g":"1.5","n":512,"v":-6.16,"lo":-6.8,"hi":-5.5},{"s":12,"g":"1.5","n":1024,"v":-6.11,"lo":-6.57,"hi":-5.66},{"s":12,"g":"1.5","n":2048,"v":-6.07,"lo":-6.45,"hi":-5.77},{"s":12,"g":"1.5","n":4096,"v":-6.07,"lo":-6.34,"hi":-5.84},{"s":12,"g":"1.5","n":8192,"v":-6.07,"lo":-6.24,"hi":-5.92},{"s":12,"g":"1.5","n":16384,"v":-6.07,"lo":-6.18,"hi":-5.97},{"s":12,"g":"1.5","n":32768,"v":-6.07,"lo":-6.14,"hi":-6.0},{"s":12,"g":"1.5","n":65536,"v":-6.07},{"s":12,"g":"1.5","n":131072,"v":-6.07},{"s":12,"g":"1.5","n":262144,"v":-6.07},{"s":12,"g":"1.5","n":524288,"v":-6.07},
{"s":12,"g":"2","n":64,"v":-6.91,"lo":-9.6,"hi":-5.95},{"s":12,"g":"2","n":128,"v":-7.32,"lo":-8.39,"hi":-6.8},{"s":12,"g":"2","n":256,"v":-7.09,"lo":-7.82,"hi":-6.68},{"s":12,"g":"2","n":512,"v":-7.02,"lo":-7.48,"hi":-6.68},{"s":12,"g":"2","n":1024,"v":-6.98,"lo":-7.3,"hi":-6.75},{"s":12,"g":"2","n":2048,"v":-6.95,"lo":-7.15,"hi":-6.8},{"s":12,"g":"2","n":4096,"v":-6.95,"lo":-7.07,"hi":-6.85},{"s":12,"g":"2","n":8192,"v":-6.95,"lo":-7.03,"hi":-6.88},{"s":12,"g":"2","n":16384,"v":-6.95,"lo":-7.0,"hi":-6.9},{"s":12,"g":"2","n":32768,"v":-6.95,"lo":-6.99,"hi":-6.92},{"s":12,"g":"2","n":65536,"v":-6.95},{"s":12,"g":"2","n":131072,"v":-6.95},{"s":12,"g":"2","n":262144,"v":-6.95},{"s":12,"g":"2","n":524288,"v":-6.95},
{"s":12,"g":"3","n":64,"v":-8.05,"lo":-9.91,"hi":-7.48},{"s":12,"g":"3","n":128,"v":-8.05,"lo":-9.07,"hi":-7.48},{"s":12,"g":"3","n":256,"v":-7.89,"lo":-8.5,"hi":-7.48},{"s":12,"g":"3","n":512,"v":-7.82,"lo":-8.23,"hi":-7.55},{"s":12,"g":"3","n":1024,"v":-7.82,"lo":-8.09,"hi":-7.59},{"s":12,"g":"3","n":2048,"v":-7.8,"lo":-7.98,"hi":-7.64},{"s":12,"g":"3","n":4096,"v":-7.8,"lo":-7.92,"hi":-7.68},{"s":12,"g":"3","n":8192,"v":-7.8,"lo":-7.88,"hi":-7.72},{"s":12,"g":"3","n":16384,"v":-7.8,"lo":-7.86,"hi":-7.74},{"s":12,"g":"3","n":32768,"v":-7.8,"lo":-7.84,"hi":-7.76},{"s":12,"g":"3","n":65536,"v":-7.8},{"s":12,"g":"3","n":131072,"v":-7.8},{"s":12,"g":"3","n":262144,"v":-7.8},{"s":12,"g":"3","n":524288,"v":-7.8},
{"s":13,"g":"1.5","n":64,"v":-4.23,"lo":-10.5,"hi":-2.5},{"s":13,"g":"1.5","n":128,"v":-5.7,"lo":-8.0,"hi":-3.55},{"s":13,"g":"1.5","n":256,"v":-6.5,"lo":-8.32,"hi":-4.86},{"s":13,"g":"1.5","n":512,"v":-6.57,"lo":-7.59,"hi":-5.82},{"s":13,"g":"1.5","n":1024,"v":-6.39,"lo":-7.14,"hi":-6.0},{"s":13,"g":"1.5","n":2048,"v":-6.36,"lo":-6.82,"hi":-6.05},{"s":13,"g":"1.5","n":4096,"v":-6.32,"lo":-6.7,"hi":-6.1},{"s":13,"g":"1.5","n":8192,"v":-6.32,"lo":-6.5,"hi":-6.18},{"s":13,"g":"1.5","n":16384,"v":-6.32,"lo":-6.43,"hi":-6.22},{"s":13,"g":"1.5","n":32768,"v":-6.32,"lo":-6.39,"hi":-6.26},{"s":13,"g":"1.5","n":65536,"v":-6.32},{"s":13,"g":"1.5","n":131072,"v":-6.32},{"s":13,"g":"1.5","n":262144,"v":-6.32},{"s":13,"g":"1.5","n":524288,"v":-6.32},
{"s":13,"g":"2","n":64,"v":-6.68,"lo":-10.5,"hi":-5.6},{"s":13,"g":"2","n":128,"v":-7.59,"lo":-8.32,"hi":-6.73},{"s":13,"g":"2","n":256,"v":-7.64,"lo":-8.32,"hi":-6.84},{"s":13,"g":"2","n":512,"v":-7.52,"lo":-7.98,"hi":-6.95},{"s":13,"g":"2","n":1024,"v":-7.41,"lo":-7.75,"hi":-7.07},{"s":13,"g":"2","n":2048,"v":-7.39,"lo":-7.62,"hi":-7.15},{"s":13,"g":"2","n":4096,"v":-7.36,"lo":-7.52,"hi":-7.2},{"s":13,"g":"2","n":8192,"v":-7.36,"lo":-7.46,"hi":-7.25},{"s":13,"g":"2","n":16384,"v":-7.36,"lo":-7.42,"hi":-7.29},{"s":13,"g":"2","n":32768,"v":-7.36,"lo":-7.4,"hi":-7.31},{"s":13,"g":"2","n":65536,"v":-7.36},{"s":13,"g":"2","n":131072,"v":-7.36},{"s":13,"g":"2","n":262144,"v":-7.36},{"s":13,"g":"2","n":524288,"v":-7.36},
{"s":13,"g":"3","n":64,"v":-8.36,"lo":-10.5,"hi":-7.64},{"s":13,"g":"3","n":128,"v":-8.73,"lo":-10.5,"hi":-7.98},{"s":13,"g":"3","n":256,"v":-8.59,"lo":-9.45,"hi":-7.86},{"s":13,"g":"3","n":512,"v":-8.43,"lo":-9.1,"hi":-7.86},{"s":13,"g":"3","n":1024,"v":-8.36,"lo":-8.77,"hi":-7.98},{"s":13,"g":"3","n":2048,"v":-8.34,"lo":-8.6,"hi":-8.05},{"s":13,"g":"3","n":4096,"v":-8.32,"lo":-8.5,"hi":-8.12},{"s":13,"g":"3","n":8192,"v":-8.32,"lo":-8.43,"hi":-8.18},{"s":13,"g":"3","n":16384,"v":-8.32,"lo":-8.4,"hi":-8.23},{"s":13,"g":"3","n":32768,"v":-8.32,"lo":-8.37,"hi":-8.26},{"s":13,"g":"3","n":65536,"v":-8.32},{"s":13,"g":"3","n":131072,"v":-8.32},{"s":13,"g":"3","n":262144,"v":-8.32},{"s":13,"g":"3","n":524288,"v":-8.32},
{"s":14,"g":"1.5","n":64,"v":-4.73,"lo":-7.86,"hi":-2.5},{"s":14,"g":"1.5","n":128,"v":-6.16,"lo":-8.09,"hi":-4.34},{"s":14,"g":"1.5","n":256,"v":-6.61,"lo":-7.86,"hi":-5.25},{"s":14,"g":"1.5","n":512,"v":-6.61,"lo":-7.64,"hi":-5.77},{"s":14,"g":"1.5","n":1024,"v":-6.61,"lo":-7.23,"hi":-6.05},{"s":14,"g":"1.5","n":2048,"v":-6.57,"lo":-7.0,"hi":-6.16},{"s":14,"g":"1.5","n":4096,"v":-6.55,"lo":-6.84,"hi":-6.27},{"s":14,"g":"1.5","n":8192,"v":-6.52,"lo":-6.7,"hi":-6.35},{"s":14,"g":"1.5","n":16384,"v":-6.52,"lo":-6.62,"hi":-6.42},{"s":14,"g":"1.5","n":32768,"v":-6.52,"lo":-6.58,"hi":-6.46},{"s":14,"g":"1.5","n":65536,"v":-6.52},{"s":14,"g":"1.5","n":131072,"v":-6.52},{"s":14,"g":"1.5","n":262144,"v":-6.52},{"s":14,"g":"1.5","n":524288,"v":-6.52},
{"s":14,"g":"2","n":64,"v":-6.89,"lo":-10.5,"hi":-5.82},{"s":14,"g":"2","n":128,"v":-7.8,"lo":-8.98,"hi":-7.16},{"s":14,"g":"2","n":256,"v":-7.68,"lo":-8.75,"hi":-7.05},{"s":14,"g":"2","n":512,"v":-7.59,"lo":-8.3,"hi":-7.16},{"s":14,"g":"2","n":1024,"v":-7.52,"lo":-7.93,"hi":-7.23},{"s":14,"g":"2","n":2048,"v":-7.5,"lo":-7.75,"hi":-7.28},{"s":14,"g":"2","n":4096,"v":-7.48,"lo":-7.65,"hi":-7.33},{"s":14,"g":"2","n":8192,"v":-7.48,"lo":-7.58,"hi":-7.37},{"s":14,"g":"2","n":16384,"v":-7.48,"lo":-7.55,"hi":-7.4},{"s":14,"g":"2","n":32768,"v":-7.48,"lo":-7.53,"hi":-7.42},{"s":14,"g":"2","n":65536,"v":-7.48},{"s":14,"g":"2","n":131072,"v":-7.48},{"s":14,"g":"2","n":262144,"v":-7.48},{"s":14,"g":"2","n":524288,"v":-7.48},
{"s":14,"g":"3","n":64,"v":-8.59,"lo":-10.5,"hi":-7.86},{"s":14,"g":"3","n":128,"v":-8.82,"lo":-10.3,"hi":-7.98},{"s":14,"g":"3","n":256,"v":-8.66,"lo":-9.55,"hi":-7.98},{"s":14,"g":"3","n":512,"v":-8.43,"lo":-9.16,"hi":-7.98},{"s":14,"g":"3","n":1024,"v":-8.39,"lo":-8.86,"hi":-8.05},{"s":14,"g":"3","n":2048,"v":-8.36,"lo":-8.68,"hi":-8.12},{"s":14,"g":"3","n":4096,"v":-8.34,"lo":-8.55,"hi":-8.18},{"s":14,"g":"3","n":8192,"v":-8.32,"lo":-8.45,"hi":-8.22},{"s":14,"g":"3","n":16384,"v":-8.32,"lo":-8.4,"hi":-8.26},{"s":14,"g":"3","n":32768,"v":-8.32,"lo":-8.37,"hi":-8.28},{"s":14,"g":"3","n":65536,"v":-8.32},{"s":14,"g":"3","n":131072,"v":-8.32},{"s":14,"g":"3","n":262144,"v":-8.32},{"s":14,"g":"3","n":524288,"v":-8.32},
{"s":15,"g":"1.5","n":64,"v":-4.68,"lo":-8.3,"hi":-2.5},{"s":15,"g":"1.5","n":128,"v":-6.09,"lo":-9.2,"hi":-3.89},{"s":15,"g":"1.5","n":256,"v":-6.95,"lo":-8.55,"hi":-5.25},{"s":15,"g":"1.5","n":512,"v":-6.95,"lo":-8.1,"hi":-6.05},{"s":15,"g":"1.5","n":1024,"v":-6.91,"lo":-7.64,"hi":-6.27},{"s":15,"g":"1.5","n":2048,"v":-6.89,"lo":-7.43,"hi":-6.39},{"s":15,"g":"1.5","n":4096,"v":-6.84,"lo":-7.25,"hi":-6.5},{"s":15,"g":"1.5","n":8192,"v":-6.84,"lo":-7.05,"hi":-6.6},{"s":15,"g":"1.5","n":16384,"v":-6.84,"lo":-6.98,"hi":-6.7},{"s":15,"g":"1.5","n":32768,"v":-6.84,"lo":-6.93,"hi":-6.76},{"s":15,"g":"1.5","n":65536,"v":-6.84},{"s":15,"g":"1.5","n":131072,"v":-6.84},{"s":15,"g":"1.5","n":262144,"v":-6.84},{"s":15,"g":"1.5","n":524288,"v":-6.84},
{"s":15,"g":"2","n":64,"v":-7.0,"lo":-10.5,"hi":-6.05},{"s":15,"g":"2","n":128,"v":-7.98,"lo":-10.3,"hi":-7.55},{"s":15,"g":"2","n":256,"v":-8.2,"lo":-9.5,"hi":-7.66},{"s":15,"g":"2","n":512,"v":-8.14,"lo":-8.84,"hi":-7.66},{"s":15,"g":"2","n":1024,"v":-7.98,"lo":-8.39,"hi":-7.66},{"s":15,"g":"2","n":2048,"v":-7.91,"lo":-8.2,"hi":-7.7},{"s":15,"g":"2","n":4096,"v":-7.86,"lo":-8.05,"hi":-7.72},{"s":15,"g":"2","n":8192,"v":-7.86,"lo":-7.97,"hi":-7.76},{"s":15,"g":"2","n":16384,"v":-7.86,"lo":-7.93,"hi":-7.79},{"s":15,"g":"2","n":32768,"v":-7.86,"lo":-7.91,"hi":-7.81},{"s":15,"g":"2","n":65536,"v":-7.86},{"s":15,"g":"2","n":131072,"v":-7.86},{"s":15,"g":"2","n":262144,"v":-7.86},{"s":15,"g":"2","n":524288,"v":-7.86},
{"s":15,"g":"3","n":64,"v":-8.77,"lo":-10.5,"hi":-8.05},{"s":15,"g":"3","n":128,"v":-9.34,"lo":-10.5,"hi":-8.61},{"s":15,"g":"3","n":256,"v":-9.05,"lo":-9.86,"hi":-8.39},{"s":15,"g":"3","n":512,"v":-8.89,"lo":-9.41,"hi":-8.39},{"s":15,"g":"3","n":1024,"v":-8.86,"lo":-9.2,"hi":-8.5},{"s":15,"g":"3","n":2048,"v":-8.82,"lo":-9.08,"hi":-8.56},{"s":15,"g":"3","n":4096,"v":-8.82,"lo":-9.0,"hi":-8.62},{"s":15,"g":"3","n":8192,"v":-8.82,"lo":-8.95,"hi":-8.68},{"s":15,"g":"3","n":16384,"v":-8.82,"lo":-8.9,"hi":-8.72},{"s":15,"g":"3","n":32768,"v":-8.82,"lo":-8.88,"hi":-8.75},{"s":15,"g":"3","n":65536,"v":-8.82},{"s":15,"g":"3","n":131072,"v":-8.82},{"s":15,"g":"3","n":262144,"v":-8.82},{"s":15,"g":"3","n":524288,"v":-8.82},
{"s":16,"g":"1.5","n":64,"v":-4.68,"lo":-8.0,"hi":-2.5},{"s":16,"g":"1.5","n":128,"v":-5.86,"lo":-8.32,"hi":-3.89},{"s":16,"g":"1.5","n":256,"v":-6.61,"lo":-7.86,"hi":-5.2},{"s":16,"g":"1.5","n":512,"v":-6.66,"lo":-7.41,"hi":-5.86},{"s":16,"g":"1.5","n":1024,"v":-6.55,"lo":-6.91,"hi":-6.05},{"s":16,"g":"1.5","n":2048,"v":-6.5,"lo":-6.75,"hi":-6.16},{"s":16,"g":"1.5","n":4096,"v":-6.45,"lo":-6.64,"hi":-6.23},{"s":16,"g":"1.5","n":8192,"v":-6.43,"lo":-6.57,"hi":-6.3},{"s":16,"g":"1.5","n":16384,"v":-6.43,"lo":-6.5,"hi":-6.35},{"s":16,"g":"1.5","n":32768,"v":-6.43,"lo":-6.47,"hi":-6.38},{"s":16,"g":"1.5","n":65536,"v":-6.43},{"s":16,"g":"1.5","n":131072,"v":-6.43},{"s":16,"g":"1.5","n":262144,"v":-6.43},{"s":16,"g":"1.5","n":524288,"v":-6.43},
{"s":16,"g":"2","n":64,"v":-6.84,"lo":-9.18,"hi":-6.05},{"s":16,"g":"2","n":128,"v":-7.41,"lo":-8.14,"hi":-6.89},{"s":16,"g":"2","n":256,"v":-7.75,"lo":-8.5,"hi":-6.82},{"s":16,"g":"2","n":512,"v":-7.59,"lo":-8.14,"hi":-6.89},{"s":16,"g":"2","n":1024,"v":-7.41,"lo":-7.7,"hi":-6.89},{"s":16,"g":"2","n":2048,"v":-7.41,"lo":-7.65,"hi":-7.05},{"s":16,"g":"2","n":4096,"v":-7.41,"lo":-7.6,"hi":-7.15},{"s":16,"g":"2","n":8192,"v":-7.41,"lo":-7.53,"hi":-7.25},{"s":16,"g":"2","n":16384,"v":-7.41,"lo":-7.5,"hi":-7.3},{"s":16,"g":"2","n":32768,"v":-7.41,"lo":-7.47,"hi":-7.34},{"s":16,"g":"2","n":65536,"v":-7.41},{"s":16,"g":"2","n":131072,"v":-7.41},{"s":16,"g":"2","n":262144,"v":-7.41},{"s":16,"g":"2","n":524288,"v":-7.41},
{"s":16,"g":"3","n":64,"v":-8.5,"lo":-10.5,"hi":-7.86},{"s":16,"g":"3","n":128,"v":-8.5,"lo":-9.5,"hi":-7.98},{"s":16,"g":"3","n":256,"v":-8.43,"lo":-9.2,"hi":-7.93},{"s":16,"g":"3","n":512,"v":-8.36,"lo":-8.86,"hi":-7.93},{"s":16,"g":"3","n":1024,"v":-8.32,"lo":-8.7,"hi":-7.98},{"s":16,"g":"3","n":2048,"v":-8.32,"lo":-8.6,"hi":-8.05},{"s":16,"g":"3","n":4096,"v":-8.32,"lo":-8.52,"hi":-8.1},{"s":16,"g":"3","n":8192,"v":-8.32,"lo":-8.45,"hi":-8.16},{"s":16,"g":"3","n":16384,"v":-8.32,"lo":-8.42,"hi":-8.2},{"s":16,"g":"3","n":32768,"v":-8.32,"lo":-8.4,"hi":-8.24},{"s":16,"g":"3","n":65536,"v":-8.32},{"s":16,"g":"3","n":131072,"v":-8.32},{"s":16,"g":"3","n":262144,"v":-8.32},{"s":16,"g":"3","n":524288,"v":-8.32}
]},
"columns": 4,
"spacing": {"row": 53, "column": 47},
"bounds": "flush",
"resolve": {"legend": {"color": "independent"}},
"concat": [
{"title":"Station no. 1","width":124,"height":103,"transform":[{"filter":"datum.s==1"}],"encoding":{"x":{"field":"n","type":"quantitative","scale":{"type":"log","domain":[45,900000]},"axis":{"values":[100,1000,10000,100000],"labelExpr":"datum.value==100?'10²':datum.value==100000?'10⁵':''","title":null}},"color":{"field":"g","type":"nominal","scale":{"domain":["1.5","2","3"],"range":["#0072BD","#D95319","#EDB120"]},"legend":{"orient":"bottom-left","title":null,"offset":3,"padding":4,"strokeColor":"#7a7a7a","fillColor":"white","labelFontSize":12,"labelColor":"#000","symbolType":"M-2.2,0H-0.55M0.55,0H2.2M0.55,0A0.55,0.55,0,1,1,-0.55,0A0.55,0.55,0,1,1,0.55,0M0,-0.85V-0.55M0,0.55V0.85M-0.35,-0.85H0.35M-0.35,0.85H0.35","symbolSize":144,"symbolStrokeWidth":0.9,"symbolFillColor":"transparent","symbolOffset":8,"labelOffset":13,"rowPadding":-3}}},"layer":[{"mark":{"type":"errorbar","ticks":{"size":6},"clip":true,"opacity":0.6},"encoding":{"y":{"field":"lo","type":"quantitative","scale":{"domain":[-10,-3],"nice":false,"zero":false},"axis":{"values":[-10,-9,-8,-7,-6,-5,-4],"labelExpr":"datum.value==-4?'10⁻⁴':datum.value==-10?'10⁻¹⁰':''","title":"Rec. rate (1/yr)"}},"y2":{"field":"hi"}}},{"mark":{"type":"line","strokeWidth":0.8,"clip":true},"encoding":{"y":{"field":"v","type":"quantitative","scale":{"domain":[-10,-3],"nice":false,"zero":false},"axis":{"values":[-10,-9,-8,-7,-6,-5,-4],"labelExpr":"datum.value==-4?'10⁻⁴':datum.value==-10?'10⁻¹⁰':''","title":"Rec. rate (1/yr)"}}}},{"mark":{"type":"point","filled":false,"size":36,"strokeWidth":0.9,"opacity":1,"clip":true},"encoding":{"y":{"field":"v","type":"quantitative"}}}]},
{"title":"Station no. 2","width":124,"height":103,"transform":[{"filter":"datum.s==2"}],"encoding":{"x":{"field":"n","type":"quantitative","scale":{"type":"log","domain":[45,900000]},"axis":{"values":[100,1000,10000,100000],"labelExpr":"datum.value==100?'10²':datum.value==100000?'10⁵':''","title":null}},"color":{"field":"g","type":"nominal","scale":{"domain":["1.5","2","3"],"range":["#0072BD","#D95319","#EDB120"]},"legend":null}},"layer":[{"mark":{"type":"errorbar","ticks":{"size":6},"clip":true,"opacity":0.6},"encoding":{"y":{"field":"lo","type":"quantitative","scale":{"domain":[-10,-3],"nice":false,"zero":false},"axis":{"values":[-10,-9,-8,-7,-6,-5,-4],"labelExpr":"datum.value==-4?'10⁻⁴':datum.value==-10?'10⁻¹⁰':''","title":null}},"y2":{"field":"hi"}}},{"mark":{"type":"line","strokeWidth":0.8,"clip":true},"encoding":{"y":{"field":"v","type":"quantitative","scale":{"domain":[-10,-3],"nice":false,"zero":false},"axis":{"values":[-10,-9,-8,-7,-6,-5,-4],"labelExpr":"datum.value==-4?'10⁻⁴':datum.value==-10?'10⁻¹⁰':''","title":null}}}},{"mark":{"type":"point","filled":false,"size":36,"strokeWidth":0.9,"opacity":1,"clip":true},"encoding":{"y":{"field":"v","type":"quantitative"}}}]},
{"title":"Station no. 3","width":124,"height":103,"transform":[{"filter":"datum.s==3"}],"encoding":{"x":{"field":"n","type":"quantitative","scale":{"type":"log","domain":[45,900000]},"axis":{"values":[100,1000,10000,100000],"labelExpr":"datum.value==100?'10²':datum.value==100000?'10⁵':''","title":null}},"color":{"field":"g","type":"nominal","scale":{"domain":["1.5","2","3"],"range":["#0072BD","#D95319","#EDB120"]},"legend":null}},"layer":[{"mark":{"type":"errorbar","ticks":{"size":6},"clip":true,"opacity":0.6},"encoding":{"y":{"field":"lo","type":"quantitative","scale":{"domain":[-10,-3],"nice":false,"zero":false},"axis":{"values":[-10,-9,-8,-7,-6,-5,-4],"labelExpr":"datum.value==-4?'10⁻⁴':datum.value==-10?'10⁻¹⁰':''","title":null}},"y2":{"field":"hi"}}},{"mark":{"type":"line","strokeWidth":0.8,"clip":true},"encoding":{"y":{"field":"v","type":"quantitative","scale":{"domain":[-10,-3],"nice":false,"zero":false},"axis":{"values":[-10,-9,-8,-7,-6,-5,-4],"labelExpr":"datum.value==-4?'10⁻⁴':datum.value==-10?'10⁻¹⁰':''","title":null}}}},{"mark":{"type":"point","filled":false,"size":36,"strokeWidth":0.9,"opacity":1,"clip":true},"encoding":{"y":{"field":"v","type":"quantitative"}}}]},
{"title":"Station no. 4","width":124,"height":103,"transform":[{"filter":"datum.s==4"}],"encoding":{"x":{"field":"n","type":"quantitative","scale":{"type":"log","domain":[45,900000]},"axis":{"values":[100,1000,10000,100000],"labelExpr":"datum.value==100?'10²':datum.value==100000?'10⁵':''","title":null}},"color":{"field":"g","type":"nominal","scale":{"domain":["1.5","2","3"],"range":["#0072BD","#D95319","#EDB120"]},"legend":null}},"layer":[{"mark":{"type":"errorbar","ticks":{"size":6},"clip":true,"opacity":0.6},"encoding":{"y":{"field":"lo","type":"quantitative","scale":{"domain":[-10,-3],"nice":false,"zero":false},"axis":{"values":[-10,-9,-8,-7,-6,-5,-4],"labelExpr":"datum.value==-4?'10⁻⁴':datum.value==-10?'10⁻¹⁰':''","title":null}},"y2":{"field":"hi"}}},{"mark":{"type":"line","strokeWidth":0.8,"clip":true},"encoding":{"y":{"field":"v","type":"quantitative","scale":{"domain":[-10,-3],"nice":false,"zero":false},"axis":{"values":[-10,-9,-8,-7,-6,-5,-4],"labelExpr":"datum.value==-4?'10⁻⁴':datum.value==-10?'10⁻¹⁰':''","title":null}}}},{"mark":{"type":"point","filled":false,"size":36,"strokeWidth":0.9,"opacity":1,"clip":true},"encoding":{"y":{"field":"v","type":"quantitative"}}}]},
{"title":"Station no. 5","width":124,"height":103,"transform":[{"filter":"datum.s==5"}],"encoding":{"x":{"field":"n","type":"quantitative","scale":{"type":"log","domain":[45,900000]},"axis":{"values":[100,1000,10000,100000],"labelExpr":"datum.value==100?'10²':datum.value==100000?'10⁵':''","title":null}},"color":{"field":"g","type":"nominal","scale":{"domain":["1.5","2","3"],"range":["#0072BD","#D95319","#EDB120"]},"legend":null}},"layer":[{"mark":{"type":"errorbar","ticks":{"size":6},"clip":true,"opacity":0.6},"encoding":{"y":{"field":"lo","type":"quantitative","scale":{"domain":[-10,-3],"nice":false,"zero":false},"axis":{"values":[-10,-9,-8,-7,-6,-5,-4],"labelExpr":"datum.value==-4?'10⁻⁴':datum.value==-10?'10⁻¹⁰':''","title":"Rec. rate (1/yr)"}},"y2":{"field":"hi"}}},{"mark":{"type":"line","strokeWidth":0.8,"clip":true},"encoding":{"y":{"field":"v","type":"quantitative","scale":{"domain":[-10,-3],"nice":false,"zero":false},"axis":{"values":[-10,-9,-8,-7,-6,-5,-4],"labelExpr":"datum.value==-4?'10⁻⁴':datum.value==-10?'10⁻¹⁰':''","title":"Rec. rate (1/yr)"}}}},{"mark":{"type":"point","filled":false,"size":36,"strokeWidth":0.9,"opacity":1,"clip":true},"encoding":{"y":{"field":"v","type":"quantitative"}}}]},
{"title":"Station no. 6","width":124,"height":103,"transform":[{"filter":"datum.s==6"}],"encoding":{"x":{"field":"n","type":"quantitative","scale":{"type":"log","domain":[45,900000]},"axis":{"values":[100,1000,10000,100000],"labelExpr":"datum.value==100?'10²':datum.value==100000?'10⁵':''","title":null}},"color":{"field":"g","type":"nominal","scale":{"domain":["1.5","2","3"],"range":["#0072BD","#D95319","#EDB120"]},"legend":null}},"layer":[{"mark":{"type":"errorbar","ticks":{"size":6},"clip":true,"opacity":0.6},"encoding":{"y":{"field":"lo","type":"quantitative","scale":{"domain":[-10,-3],"nice":false,"zero":false},"axis":{"values":[-10,-9,-8,-7,-6,-5,-4],"labelExpr":"datum.value==-4?'10⁻⁴':datum.value==-10?'10⁻¹⁰':''","title":null}},"y2":{"field":"hi"}}},{"mark":{"type":"line","strokeWidth":0.8,"clip":true},"encoding":{"y":{"field":"v","type":"quantitative","scale":{"domain":[-10,-3],"nice":false,"zero":false},"axis":{"values":[-10,-9,-8,-7,-6,-5,-4],"labelExpr":"datum.value==-4?'10⁻⁴':datum.value==-10?'10⁻¹⁰':''","title":null}}}},{"mark":{"type":"point","filled":false,"size":36,"strokeWidth":0.9,"opacity":1,"clip":true},"encoding":{"y":{"field":"v","type":"quantitative"}}}]},
{"title":"Station no. 7","width":124,"height":103,"transform":[{"filter":"datum.s==7"}],"encoding":{"x":{"field":"n","type":"quantitative","scale":{"type":"log","domain":[45,900000]},"axis":{"values":[100,1000,10000,100000],"labelExpr":"datum.value==100?'10²':datum.value==100000?'10⁵':''","title":null}},"color":{"field":"g","type":"nominal","scale":{"domain":["1.5","2","3"],"range":["#0072BD","#D95319","#EDB120"]},"legend":null}},"layer":[{"mark":{"type":"errorbar","ticks":{"size":6},"clip":true,"opacity":0.6},"encoding":{"y":{"field":"lo","type":"quantitative","scale":{"domain":[-10,-3],"nice":false,"zero":false},"axis":{"values":[-10,-9,-8,-7,-6,-5,-4],"labelExpr":"datum.value==-4?'10⁻⁴':datum.value==-10?'10⁻¹⁰':''","title":null}},"y2":{"field":"hi"}}},{"mark":{"type":"line","strokeWidth":0.8,"clip":true},"encoding":{"y":{"field":"v","type":"quantitative","scale":{"domain":[-10,-3],"nice":false,"zero":false},"axis":{"values":[-10,-9,-8,-7,-6,-5,-4],"labelExpr":"datum.value==-4?'10⁻⁴':datum.value==-10?'10⁻¹⁰':''","title":null}}}},{"mark":{"type":"point","filled":false,"size":36,"strokeWidth":0.9,"opacity":1,"clip":true},"encoding":{"y":{"field":"v","type":"quantitative"}}}]},
{"title":"Station no. 8","width":124,"height":103,"transform":[{"filter":"datum.s==8"}],"encoding":{"x":{"field":"n","type":"quantitative","scale":{"type":"log","domain":[45,900000]},"axis":{"values":[100,1000,10000,100000],"labelExpr":"datum.value==100?'10²':datum.value==100000?'10⁵':''","title":null}},"color":{"field":"g","type":"nominal","scale":{"domain":["1.5","2","3"],"range":["#0072BD","#D95319","#EDB120"]},"legend":null}},"layer":[{"mark":{"type":"errorbar","ticks":{"size":6},"clip":true,"opacity":0.6},"encoding":{"y":{"field":"lo","type":"quantitative","scale":{"domain":[-10,-3],"nice":false,"zero":false},"axis":{"values":[-10,-9,-8,-7,-6,-5,-4],"labelExpr":"datum.value==-4?'10⁻⁴':datum.value==-10?'10⁻¹⁰':''","title":null}},"y2":{"field":"hi"}}},{"mark":{"type":"line","strokeWidth":0.8,"clip":true},"encoding":{"y":{"field":"v","type":"quantitative","scale":{"domain":[-10,-3],"nice":false,"zero":false},"axis":{"values":[-10,-9,-8,-7,-6,-5,-4],"labelExpr":"datum.value==-4?'10⁻⁴':datum.value==-10?'10⁻¹⁰':''","title":null}}}},{"mark":{"type":"point","filled":false,"size":36,"strokeWidth":0.9,"opacity":1,"clip":true},"encoding":{"y":{"field":"v","type":"quantitative"}}}]},
{"title":"Station no. 9","width":124,"height":103,"transform":[{"filter":"datum.s==9"}],"encoding":{"x":{"field":"n","type":"quantitative","scale":{"type":"log","domain":[45,900000]},"axis":{"values":[100,1000,10000,100000],"labelExpr":"datum.value==100?'10²':datum.value==100000?'10⁵':''","title":null}},"color":{"field":"g","type":"nominal","scale":{"domain":["1.5","2","3"],"range":["#0072BD","#D95319","#EDB120"]},"legend":null}},"layer":[{"mark":{"type":"errorbar","ticks":{"size":6},"clip":true,"opacity":0.6},"encoding":{"y":{"field":"lo","type":"quantitative","scale":{"domain":[-10,-3],"nice":false,"zero":false},"axis":{"values":[-10,-9,-8,-7,-6,-5,-4],"labelExpr":"datum.value==-4?'10⁻⁴':datum.value==-10?'10⁻¹⁰':''","title":"Rec. rate (1/yr)"}},"y2":{"field":"hi"}}},{"mark":{"type":"line","strokeWidth":0.8,"clip":true},"encoding":{"y":{"field":"v","type":"quantitative","scale":{"domain":[-10,-3],"nice":false,"zero":false},"axis":{"values":[-10,-9,-8,-7,-6,-5,-4],"labelExpr":"datum.value==-4?'10⁻⁴':datum.value==-10?'10⁻¹⁰':''","title":"Rec. rate (1/yr)"}}}},{"mark":{"type":"point","filled":false,"size":36,"strokeWidth":0.9,"opacity":1,"clip":true},"encoding":{"y":{"field":"v","type":"quantitative"}}}]},
{"title":"Station no. 10","width":124,"height":103,"transform":[{"filter":"datum.s==10"}],"encoding":{"x":{"field":"n","type":"quantitative","scale":{"type":"log","domain":[45,900000]},"axis":{"values":[100,1000,10000,100000],"labelExpr":"datum.value==100?'10²':datum.value==100000?'10⁵':''","title":null}},"color":{"field":"g","type":"nominal","scale":{"domain":["1.5","2","3"],"range":["#0072BD","#D95319","#EDB120"]},"legend":null}},"layer":[{"mark":{"type":"errorbar","ticks":{"size":6},"clip":true,"opacity":0.6},"encoding":{"y":{"field":"lo","type":"quantitative","scale":{"domain":[-10,-3],"nice":false,"zero":false},"axis":{"values":[-10,-9,-8,-7,-6,-5,-4],"labelExpr":"datum.value==-4?'10⁻⁴':datum.value==-10?'10⁻¹⁰':''","title":null}},"y2":{"field":"hi"}}},{"mark":{"type":"line","strokeWidth":0.8,"clip":true},"encoding":{"y":{"field":"v","type":"quantitative","scale":{"domain":[-10,-3],"nice":false,"zero":false},"axis":{"values":[-10,-9,-8,-7,-6,-5,-4],"labelExpr":"datum.value==-4?'10⁻⁴':datum.value==-10?'10⁻¹⁰':''","title":null}}}},{"mark":{"type":"point","filled":false,"size":36,"strokeWidth":0.9,"opacity":1,"clip":true},"encoding":{"y":{"field":"v","type":"quantitative"}}}]},
{"title":"Station no. 11","width":124,"height":103,"transform":[{"filter":"datum.s==11"}],"encoding":{"x":{"field":"n","type":"quantitative","scale":{"type":"log","domain":[45,900000]},"axis":{"values":[100,1000,10000,100000],"labelExpr":"datum.value==100?'10²':datum.value==100000?'10⁵':''","title":null}},"color":{"field":"g","type":"nominal","scale":{"domain":["1.5","2","3"],"range":["#0072BD","#D95319","#EDB120"]},"legend":null}},"layer":[{"mark":{"type":"errorbar","ticks":{"size":6},"clip":true,"opacity":0.6},"encoding":{"y":{"field":"lo","type":"quantitative","scale":{"domain":[-10,-3],"nice":false,"zero":false},"axis":{"values":[-10,-9,-8,-7,-6,-5,-4],"labelExpr":"datum.value==-4?'10⁻⁴':datum.value==-10?'10⁻¹⁰':''","title":null}},"y2":{"field":"hi"}}},{"mark":{"type":"line","strokeWidth":0.8,"clip":true},"encoding":{"y":{"field":"v","type":"quantitative","scale":{"domain":[-10,-3],"nice":false,"zero":false},"axis":{"values":[-10,-9,-8,-7,-6,-5,-4],"labelExpr":"datum.value==-4?'10⁻⁴':datum.value==-10?'10⁻¹⁰':''","title":null}}}},{"mark":{"type":"point","filled":false,"size":36,"strokeWidth":0.9,"opacity":1,"clip":true},"encoding":{"y":{"field":"v","type":"quantitative"}}}]},
{"title":"Station no. 12","width":124,"height":103,"transform":[{"filter":"datum.s==12"}],"encoding":{"x":{"field":"n","type":"quantitative","scale":{"type":"log","domain":[45,900000]},"axis":{"values":[100,1000,10000,100000],"labelExpr":"datum.value==100?'10²':datum.value==100000?'10⁵':''","title":null}},"color":{"field":"g","type":"nominal","scale":{"domain":["1.5","2","3"],"range":["#0072BD","#D95319","#EDB120"]},"legend":null}},"layer":[{"mark":{"type":"errorbar","ticks":{"size":6},"clip":true,"opacity":0.6},"encoding":{"y":{"field":"lo","type":"quantitative","scale":{"domain":[-10,-3],"nice":false,"zero":false},"axis":{"values":[-10,-9,-8,-7,-6,-5,-4],"labelExpr":"datum.value==-4?'10⁻⁴':datum.value==-10?'10⁻¹⁰':''","title":null}},"y2":{"field":"hi"}}},{"mark":{"type":"line","strokeWidth":0.8,"clip":true},"encoding":{"y":{"field":"v","type":"quantitative","scale":{"domain":[-10,-3],"nice":false,"zero":false},"axis":{"values":[-10,-9,-8,-7,-6,-5,-4],"labelExpr":"datum.value==-4?'10⁻⁴':datum.value==-10?'10⁻¹⁰':''","title":null}}}},{"mark":{"type":"point","filled":false,"size":36,"strokeWidth":0.9,"opacity":1,"clip":true},"encoding":{"y":{"field":"v","type":"quantitative"}}}]},
{"title":"Station no. 13","width":124,"height":103,"transform":[{"filter":"datum.s==13"}],"encoding":{"x":{"field":"n","type":"quantitative","scale":{"type":"log","domain":[45,900000]},"axis":{"values":[100,1000,10000,100000],"labelExpr":"datum.value==100?'10²':datum.value==100000?'10⁵':''","title":"No. of \"years\",  N"}},"color":{"field":"g","type":"nominal","scale":{"domain":["1.5","2","3"],"range":["#0072BD","#D95319","#EDB120"]},"legend":null}},"layer":[{"mark":{"type":"errorbar","ticks":{"size":6},"clip":true,"opacity":0.6},"encoding":{"y":{"field":"lo","type":"quantitative","scale":{"domain":[-10,-3],"nice":false,"zero":false},"axis":{"values":[-10,-9,-8,-7,-6,-5,-4],"labelExpr":"datum.value==-4?'10⁻⁴':datum.value==-10?'10⁻¹⁰':''","title":"Rec. rate (1/yr)"}},"y2":{"field":"hi"}}},{"mark":{"type":"line","strokeWidth":0.8,"clip":true},"encoding":{"y":{"field":"v","type":"quantitative","scale":{"domain":[-10,-3],"nice":false,"zero":false},"axis":{"values":[-10,-9,-8,-7,-6,-5,-4],"labelExpr":"datum.value==-4?'10⁻⁴':datum.value==-10?'10⁻¹⁰':''","title":"Rec. rate (1/yr)"}}}},{"mark":{"type":"point","filled":false,"size":36,"strokeWidth":0.9,"opacity":1,"clip":true},"encoding":{"y":{"field":"v","type":"quantitative"}}}]},
{"title":"Station no. 14","width":124,"height":103,"transform":[{"filter":"datum.s==14"}],"encoding":{"x":{"field":"n","type":"quantitative","scale":{"type":"log","domain":[45,900000]},"axis":{"values":[100,1000,10000,100000],"labelExpr":"datum.value==100?'10²':datum.value==100000?'10⁵':''","title":"No. of \"years\",  N"}},"color":{"field":"g","type":"nominal","scale":{"domain":["1.5","2","3"],"range":["#0072BD","#D95319","#EDB120"]},"legend":null}},"layer":[{"mark":{"type":"errorbar","ticks":{"size":6},"clip":true,"opacity":0.6},"encoding":{"y":{"field":"lo","type":"quantitative","scale":{"domain":[-10,-3],"nice":false,"zero":false},"axis":{"values":[-10,-9,-8,-7,-6,-5,-4],"labelExpr":"datum.value==-4?'10⁻⁴':datum.value==-10?'10⁻¹⁰':''","title":null}},"y2":{"field":"hi"}}},{"mark":{"type":"line","strokeWidth":0.8,"clip":true},"encoding":{"y":{"field":"v","type":"quantitative","scale":{"domain":[-10,-3],"nice":false,"zero":false},"axis":{"values":[-10,-9,-8,-7,-6,-5,-4],"labelExpr":"datum.value==-4?'10⁻⁴':datum.value==-10?'10⁻¹⁰':''","title":null}}}},{"mark":{"type":"point","filled":false,"size":36,"strokeWidth":0.9,"opacity":1,"clip":true},"encoding":{"y":{"field":"v","type":"quantitative"}}}]},
{"title":"Station no. 15","width":124,"height":103,"transform":[{"filter":"datum.s==15"}],"encoding":{"x":{"field":"n","type":"quantitative","scale":{"type":"log","domain":[45,900000]},"axis":{"values":[100,1000,10000,100000],"labelExpr":"datum.value==100?'10²':datum.value==100000?'10⁵':''","title":"No. of \"years\",  N"}},"color":{"field":"g","type":"nominal","scale":{"domain":["1.5","2","3"],"range":["#0072BD","#D95319","#EDB120"]},"legend":null}},"layer":[{"mark":{"type":"errorbar","ticks":{"size":6},"clip":true,"opacity":0.6},"encoding":{"y":{"field":"lo","type":"quantitative","scale":{"domain":[-10,-3],"nice":false,"zero":false},"axis":{"values":[-10,-9,-8,-7,-6,-5,-4],"labelExpr":"datum.value==-4?'10⁻⁴':datum.value==-10?'10⁻¹⁰':''","title":null}},"y2":{"field":"hi"}}},{"mark":{"type":"line","strokeWidth":0.8,"clip":true},"encoding":{"y":{"field":"v","type":"quantitative","scale":{"domain":[-10,-3],"nice":false,"zero":false},"axis":{"values":[-10,-9,-8,-7,-6,-5,-4],"labelExpr":"datum.value==-4?'10⁻⁴':datum.value==-10?'10⁻¹⁰':''","title":null}}}},{"mark":{"type":"point","filled":false,"size":36,"strokeWidth":0.9,"opacity":1,"clip":true},"encoding":{"y":{"field":"v","type":"quantitative"}}}]},
{"title":"Station no. 16","width":124,"height":103,"transform":[{"filter":"datum.s==16"}],"encoding":{"x":{"field":"n","type":"quantitative","scale":{"type":"log","domain":[45,900000]},"axis":{"values":[100,1000,10000,100000],"labelExpr":"datum.value==100?'10²':datum.value==100000?'10⁵':''","title":"No. of \"years\",  N"}},"color":{"field":"g","type":"nominal","scale":{"domain":["1.5","2","3"],"range":["#0072BD","#D95319","#EDB120"]},"legend":null}},"layer":[{"mark":{"type":"errorbar","ticks":{"size":6},"clip":true,"opacity":0.6},"encoding":{"y":{"field":"lo","type":"quantitative","scale":{"domain":[-10,-3],"nice":false,"zero":false},"axis":{"values":[-10,-9,-8,-7,-6,-5,-4],"labelExpr":"datum.value==-4?'10⁻⁴':datum.value==-10?'10⁻¹⁰':''","title":null}},"y2":{"field":"hi"}}},{"mark":{"type":"line","strokeWidth":0.8,"clip":true},"encoding":{"y":{"field":"v","type":"quantitative","scale":{"domain":[-10,-3],"nice":false,"zero":false},"axis":{"values":[-10,-9,-8,-7,-6,-5,-4],"labelExpr":"datum.value==-4?'10⁻⁴':datum.value==-10?'10⁻¹⁰':''","title":null}}}},{"mark":{"type":"point","filled":false,"size":36,"strokeWidth":0.9,"opacity":1,"clip":true},"encoding":{"y":{"field":"v","type":"quantitative"}}}]}
],
"config": {
  "font": "Liberation Sans",
  "view": {"stroke": "#8c8c8c", "strokeWidth": 1},
  "title": {"fontSize": 16, "fontWeight": "bold", "color": "#000", "offset": 2},
  "axis": {"grid": false, "domain": false, "tickColor": "#404040", "tickSize": -3, "tickWidth": 0.8, "labelFontSize": 13.5, "labelColor": "#262626", "labelPadding": 7, "titleFontSize": 13.5, "titleFontWeight": "normal", "titleColor": "#262626"},
  "axisX": {"titlePadding": 3, "labelPadding": 8},
  "axisY": {"titlePadding": 10}
}
}
